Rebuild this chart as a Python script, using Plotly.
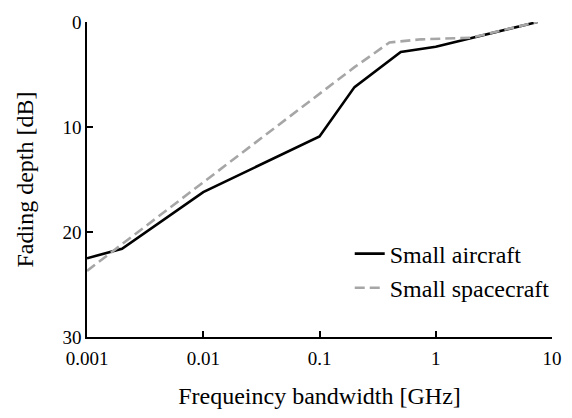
import plotly.graph_objects as go

# Data
aircraft_x = [0.001, 0.002, 0.01, 0.1, 0.2, 0.5, 1.0, 2.0, 7.5]
aircraft_y = [22.5, 21.6, 16.2, 10.9, 6.2, 2.85, 2.35, 1.55, 0.0]

spacecraft_x = [0.001, 0.01, 0.1, 0.2, 0.4, 0.75, 2.0, 7.5]
spacecraft_y = [23.7, 15.3, 6.9, 4.3, 1.95, 1.65, 1.5, 0.0]

x_tickvals = [0.001, 0.01, 0.1, 1, 10]
x_ticktext = ["0.001", "0.01", "0.1", "1", "10"]
y_tickvals = [0, 10, 20, 30]

font_family = "Liberation Serif, Times New Roman, serif"

fig = go.Figure()
fig.add_trace(go.Scatter(
    x=aircraft_x, y=aircraft_y, mode="lines", name="Small aircraft",
    line=dict(color="black", width=2.6)))
fig.add_trace(go.Scatter(
    x=spacecraft_x, y=spacecraft_y, mode="lines", name="Small spacecraft",
    line=dict(color="#a6a6a6", width=2.6, dash="10px,5px")))

fig.update_layout(
    width=572, height=418,
    margin=dict(l=87, r=10, t=22, b=81),
    paper_bgcolor="white", plot_bgcolor="white",
    font=dict(family=font_family, size=19, color="black"),
    showlegend=True,
    legend=dict(x=0.565, y=0.335, xanchor="left", yanchor="top",
                bgcolor="rgba(0,0,0,0)", font=dict(size=24),
                tracegroupgap=0, itemwidth=30),
    xaxis=dict(type="log", range=[-3, 1], tickvals=x_tickvals, ticktext=x_ticktext,
               ticks="inside", ticklen=6, tickwidth=1.5, tickcolor="black",
               ticklabelstandoff=3,
               showline=True, linecolor="black", linewidth=1.5,
               showgrid=False, zeroline=False,
               title=dict(text="Frequeincy bandwidth [GHz]", font=dict(size=24), standoff=20)),
    yaxis=dict(range=[30, 0], tickvals=y_tickvals,
               ticks="inside", ticklen=6, tickwidth=1.5, tickcolor="black",
               showline=True, linecolor="black", linewidth=1.5,
               showgrid=False, zeroline=False,
               title=dict(text="Fading depth [dB]", font=dict(size=24), standoff=22)),
)

fig.write_html("out.html", config={"displayModeBar": False},
               post_script="document.body.style.margin='0';")
